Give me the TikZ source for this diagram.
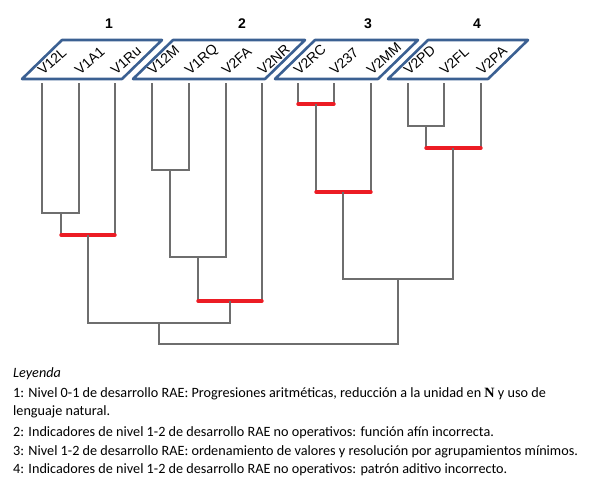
\documentclass[tikz,border=0pt]{standalone}
\usepackage{fontspec}
\setmainfont{Carlito}
\newfontfamily\labelfont{Liberation Sans}
\newfontfamily\boldN{Liberation Serif}
\definecolor{panelblue}{RGB}{59,96,146}
\definecolor{linkgray}{RGB}{110,110,110}
\definecolor{keyred}{RGB}{236,28,36}
\begin{document}
\begin{tikzpicture}[x=1pt,y=-1pt,
    panel/.style ={draw=panelblue, line width=2.6pt, line join=round},
    leaflabel/.style ={rotate=42, anchor=base west, inner sep=0pt, font=\labelfont\fontsize{14}{14}\selectfont},
    groupnum/.style ={inner sep=0pt, font=\labelfont\bfseries\fontsize{14}{14}\selectfont},
    branch/.style ={draw=linkgray, line width=1.2pt},
    keylink/.style ={draw=keyred, line width=3.4pt, line cap=round},
    legend/.style ={anchor=base west, inner sep=0pt, font=\fontsize{14.2}{16}\selectfont}]
   \useasboundingbox (0,0) rectangle (595,485);

   % cluster panels
   \draw[panel] (22,79) -- (62,40) -- (162,40) -- (122,79) -- cycle;
   \draw[panel] (133,79) -- (173,40) -- (305,40) -- (265,79) -- cycle;
   \draw[panel] (275,79) -- (315,40) -- (418,40) -- (378,79) -- cycle;
   \draw[panel] (388,79) -- (428,40) -- (528,40) -- (488,79) -- cycle;

   \node[groupnum] (G1) at (109,24) {1};
   \node[groupnum] (G2) at (242,24) {2};
   \node[groupnum] (G3) at (368,24) {3};
   \node[groupnum] (G4) at (477,24) {4};

   % variable labels
   \node[leaflabel] (V12L) at (43,76)  {V12L};
   \node[leaflabel] (V1A1) at (80,76)  {V1A1};
   \node[leaflabel] (V1Ru) at (116,76) {V1Ru};
   \node[leaflabel] (V12M) at (153,76) {V12M};
   \node[leaflabel] (V1RQ) at (190,76) {V1RQ};
   \node[leaflabel] (V2FA) at (227,76) {V2FA};
   \node[leaflabel] (V2NR) at (263,76) {V2NR};
   \node[leaflabel] (V2RC) at (299,76) {V2RC};
   \node[leaflabel] (V237) at (335,76) {V237};
   \node[leaflabel] (V2MM) at (372,76) {V2MM};
   \node[leaflabel] (V2PD) at (409,76) {V2PD};
   \node[leaflabel] (V2FL) at (445,76) {V2FL};
   \node[leaflabel] (V2PA) at (482,76) {V2PA};

   % leaf ends
   \coordinate (l12l) at (42,83);
   \coordinate (l1a1) at (79,83);
   \coordinate (l1ru) at (115,83);
   \coordinate (l12m) at (152,83);
   \coordinate (l1rq) at (189,83);
   \coordinate (l2fa) at (226,83);
   \coordinate (l2nr) at (262,83);
   \coordinate (l2rc) at (298,83);
   \coordinate (l237) at (334,83);
   \coordinate (l2mm) at (371,83);
   \coordinate (l2pd) at (408,83);
   \coordinate (l2fl) at (444,83);
   \coordinate (l2pa) at (481,83);

   % merge points
   \coordinate (j1) at (61,213);
   \coordinate (j2) at (88,235);
   \coordinate (j3) at (170,170);
   \coordinate (j4) at (198,257);
   \coordinate (j5) at (230,301);
   \coordinate (j6) at (159,323);
   \coordinate (j7) at (316,104);
   \coordinate (j8) at (343,192);
   \coordinate (j9) at (426,126);
   \coordinate (j10) at (453,148);
   \coordinate (j11) at (398,279);
   \coordinate (j12) at (279,344);

   \draw[branch] (l12l) |- (j1) -| (l1a1);
   \draw[branch] (j1) -- (j1 |- j2);
   \draw[branch] (l1ru) -- (l1ru |- j2);
   \draw[keylink] (j1 |- j2) -- (l1ru |- j2);

   \draw[branch] (l12m) |- (j3) -| (l1rq);
   \draw[branch] (j3) |- (j4) -| (l2fa);
   \draw[branch] (j4) -- (j4 |- j5);
   \draw[branch] (l2nr) -- (l2nr |- j5);
   \draw[keylink] (j4 |- j5) -- (l2nr |- j5);
   \draw[branch] (j2) |- (j6) -| (j5);

   \draw[branch] (l2rc) -- (l2rc |- j7);
   \draw[branch] (l237) -- (l237 |- j7);
   \draw[keylink] (l2rc |- j7) -- (l237 |- j7);
   \draw[branch] (j7) -- (j7 |- j8);
   \draw[branch] (l2mm) -- (l2mm |- j8);
   \draw[keylink] (j7 |- j8) -- (l2mm |- j8);

   \draw[branch] (l2pd) |- (j9) -| (l2fl);
   \draw[branch] (j9) -- (j9 |- j10);
   \draw[branch] (l2pa) -- (l2pa |- j10);
   \draw[keylink] (j9 |- j10) -- (l2pa |- j10);

   \draw[branch] (j8) |- (j11) -| (j10);
   \draw[branch] (j6) |- (j12) -| (j11);

   % legend
   \node[legend] (Ley) at (13,377) {\itshape Leyenda};
   \node[legend] (Ley1) at (13,397) {1: Nivel 0-1 de desarrollo RAE: Progresiones aritméticas, reducción a la unidad en {\boldN\bfseries N} y uso de};
   \node[legend] (Ley1b) at (13,415) {lenguaje natural.};
   \node[legend] (Ley2) at (13,436) {2: Indicadores de nivel 1-2 de desarrollo RAE no operativos: función afín incorrecta.};
   \node[legend] (Ley3) at (13,455) {3: Nivel 1-2 de desarrollo RAE: ordenamiento de valores y resolución por agrupamientos mínimos.};
   \node[legend] (Ley4) at (13,473) {4: Indicadores de nivel 1-2 de desarrollo RAE no operativos: patrón aditivo incorrecto.};
 \end{tikzpicture}
\end{document}
